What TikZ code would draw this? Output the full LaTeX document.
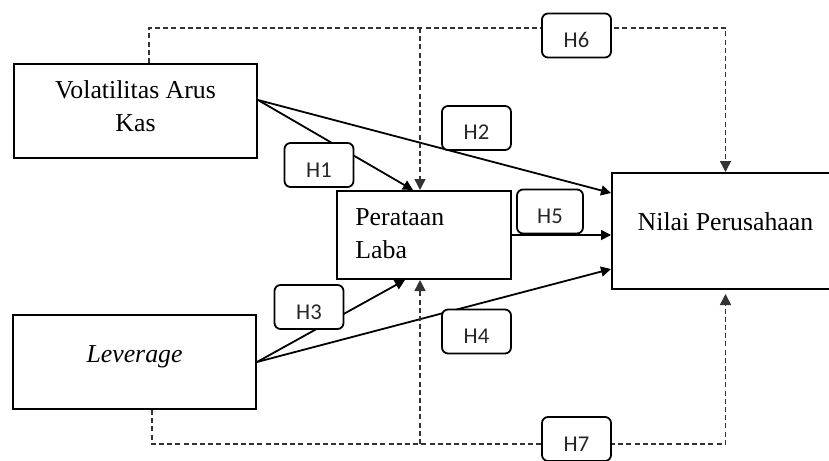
\documentclass[tikz,border=0pt]{standalone}
\usepackage{fontspec}
\setmainfont{Liberation Serif}
\newfontfamily\hfont{Carlito}
\usetikzlibrary{arrows.meta}

\begin{document}
\begin{tikzpicture}[x=0.5pt, y=-0.5pt,
    varbox/.style={draw, line width=1pt, inner sep=0pt},
    vartext/.style={inner sep=0pt, font=\fontsize{12.9}{16.5}\selectfont},
    hyp/.style={draw, line width=0.9pt, rounded corners=3pt, fill=white,
      minimum width=34.5pt, minimum height=22pt, inner sep=0pt,
      text height=12pt, text depth=0pt, text=black!85,
      font=\hfont\fontsize{11.3}{13}\selectfont},
    arr/.style={-{Triangle[length=5pt,width=5pt]}, line width=0.9pt},
    dsh/.style={dash pattern=on 2.5pt off 1.6pt, line width=0.75pt, draw=black!80},
    dtip/.style={dsh, -{Triangle[length=5.5pt,width=5.5pt]}}]
  \useasboundingbox (0,0) rectangle (829,460);
  \node[varbox, minimum width=121.5pt, minimum height=47pt] (vak) at (135.5,111) {};
  \node[vartext, align=center, anchor=north] (vakt) at (135.5,80.5) {Volatilitas Arus\\Kas};
  \node[varbox, minimum width=121.5pt, minimum height=47pt] (lev) at (134.5,362) {};
  \node[vartext, anchor=base] (levt) at (134.5,362) {\emph{Leverage}};
  \node[varbox, minimum width=87pt, minimum height=44pt] (pl) at (424,235) {};
  \node[vartext, align=left, anchor=north west] (plt) at (355,208) {Perataan\\Laba};
  \node[varbox, minimum width=113.5pt, minimum height=58pt] (np) at (725.5,231) {};
  \node[vartext, anchor=base] (npt) at (725.5,230) {Nilai Perusahaan};

  \draw[arr] ([yshift=5.5pt]vak.east) -- ([xshift=-5.5pt]pl.north);
  \draw[arr] ([yshift=5.5pt]vak.east) -- ([yshift=19pt]np.west);
  \draw[arr] (pl.east) -- (pl.east -| np.west);
  \draw[arr] (lev.east) -- ([xshift=-9.5pt]pl.south);
  \draw[arr] (lev.east) -- ([yshift=-19pt]np.west);

  \draw[dtip] ([xshift=6.75pt]vak.north) -- ++(0,-35) coordinate (toprow) -| (np.north);
  \coordinate (plin) at ([xshift=-2pt]pl.north);
  \draw[dtip] (toprow -| plin) -- (plin);
  \draw[dtip] ([xshift=8.75pt]lev.south) -- ++(0,34) coordinate (botrow) -| ([yshift=-2pt]np.south);
  \coordinate (plout) at ([xshift=-2pt]pl.south);
  \draw[dtip] (botrow -| plout) -- (plout);

  \node[hyp] (h1) at (319,165) {H1};
  \node[hyp] (h2) at (476.5,128) {H2};
  \node[hyp] (h3) at (309,307) {H3};
  \node[hyp] (h4) at (476.5,331.5) {H4};
  \node[hyp, minimum width=33pt] (h5) at (550,211.5) {H5};
  \node[hyp] (h6) at (576.5,35.5) {H6};
  \node[hyp] (h7) at (576.5,439) {H7};
\end{tikzpicture}
\end{document}
